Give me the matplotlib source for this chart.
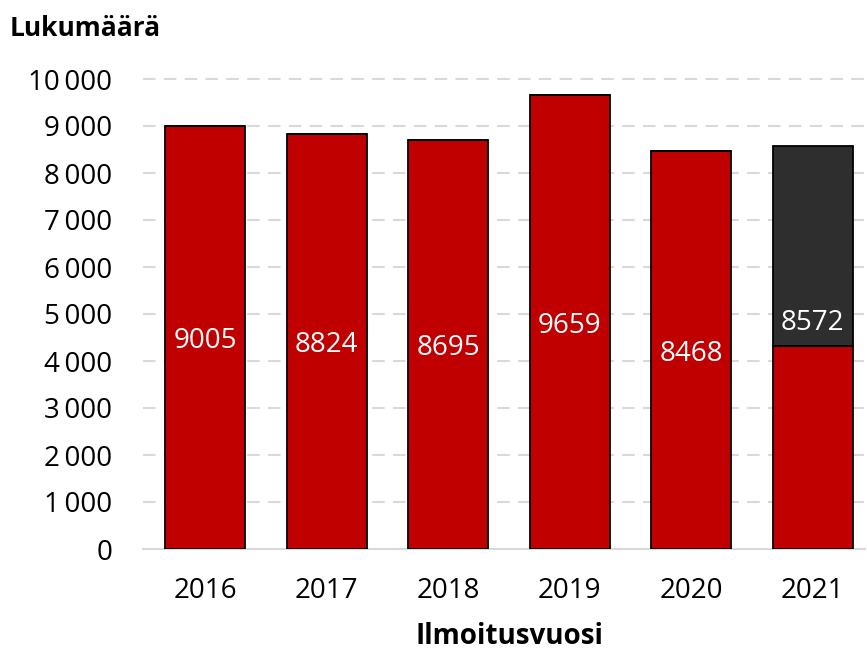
import matplotlib.pyplot as plt
import numpy as np

years = ["2016", "2017", "2018", "2019", "2020", "2021"]
totals = [9005, 8824, 8695, 9659, 8468, 8572]
red_part = [9005, 8824, 8695, 9659, 8468, 4320]
dark_part = [0, 0, 0, 0, 0, 4252]
yticks = [0, 1000, 2000, 3000, 4000, 5000, 6000, 7000, 8000, 9000, 10000]

plt.rcParams['font.family'] = ['Open Sans', 'DejaVu Sans']

fig = plt.figure(figsize=(8.67, 6.52), dpi=100)
ax = fig.add_axes([143/867, 1 - 549/652, (865-143)/867, (549-79)/652])

x = np.arange(len(years))
ax.bar(x, red_part, width=0.658, color='#C00000', edgecolor='black', linewidth=1.3, zorder=3)
ax.bar(x, dark_part, width=0.658, bottom=red_part, color='#2E2E2E', edgecolor='black',
       linewidth=1.3, zorder=3)

# value labels
for i, t in enumerate(totals):
    if dark_part[i] > 0:
        ypos = red_part[i] + 560
    else:
        ypos = t / 2
    ax.text(x[i], ypos, str(t), ha='center', va='center_baseline', color='white',
            fontsize=20, zorder=4)

ax.set_xlim(-0.51, 5.43)
ax.set_ylim(0, 10000)
ax.set_yticks(yticks)
ax.set_yticklabels([f"{v:,}".replace(",", "\u2009") for v in yticks])
ax.set_xticks(x)
ax.set_xticklabels(years)
ax.tick_params(axis='both', length=0, labelsize=20)
ax.tick_params(axis='y', pad=22)
ax.tick_params(axis='x', pad=20)

ax.yaxis.grid(True, linestyle=(0, (6, 4)), color='#D9D9D9', linewidth=1.5, zorder=0)
for s in ['top', 'right', 'left']:
    ax.spines[s].set_visible(False)
ax.spines['bottom'].set_color('#D9D9D9')
ax.spines['bottom'].set_linewidth(1.5)
for line in ax.get_ygridlines():
    line.set_clip_on(False)

fig.text(10/867, 1 - 28/652, "Lukumäärä", fontsize=19, fontweight='bold', va='center', ha='left')
fig.text(510/867, 1 - 636/652, "Ilmoitusvuosi", fontsize=20, fontweight='bold', va='center', ha='center')

fig.savefig("out.png", dpi=100)
